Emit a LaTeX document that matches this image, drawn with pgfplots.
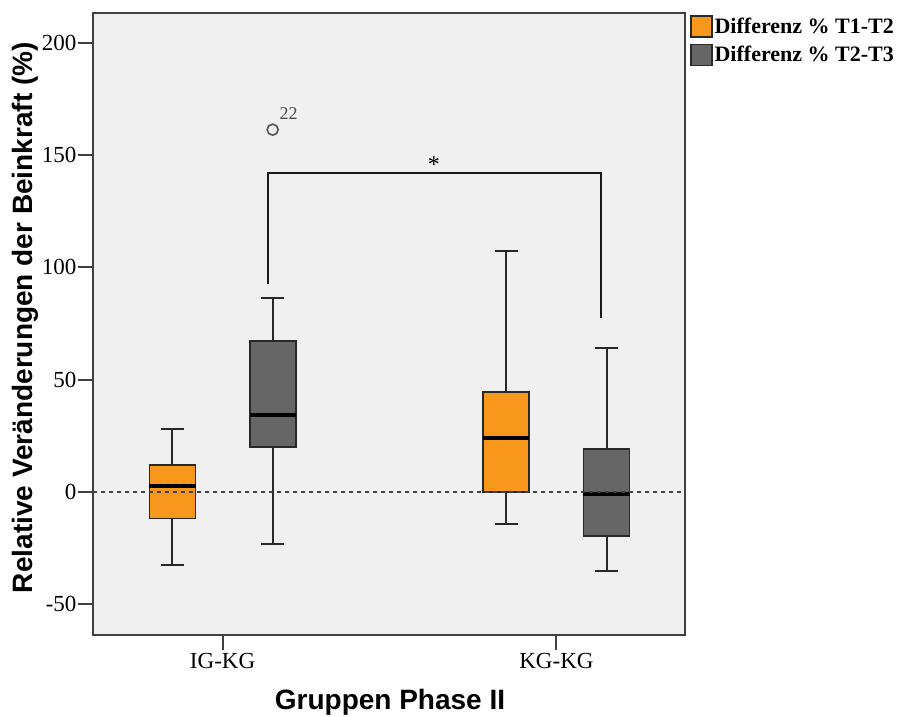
\documentclass[border=0pt]{standalone}
\usepackage{fontspec}
\setmainfont{Liberation Serif}
\setsansfont{Liberation Sans}
\usepackage{pgfplots}
\pgfplotsset{compat=1.18}
\usepgfplotslibrary{statistics}

\definecolor{orng}{RGB}{247,152,29}
\definecolor{dgrey}{RGB}{102,102,102}
\definecolor{bgc}{RGB}{240,240,240}
\definecolor{edge}{RGB}{40,40,40}

% square swatch for the legend
\pgfplotsset{sqlegend/.style={legend image code/.code={%
  \draw[##1, line width=1.4pt] (0pt,-10.5pt) rectangle (21pt,10.5pt);}}}

\begin{document}
\begin{tikzpicture}
% groups placed at x = 100 (IG-KG) and x = 200 (KG-KG)
\begin{axis}[
  at={(0,0)}, anchor=south west,
  scale only axis, width=592.6pt, height=622.3pt,
  xmin=61.1, xmax=238.6, ymin=-63.8, ymax=213.4,
  axis background/.style={fill=bgc},
  axis line style={draw=black!75, line width=2pt},
  tick pos=left, tick align=outside,
  major tick length=15pt,
  tick style={draw=black!75, line width=2pt},
  xtick={100,200}, xticklabels={IG-KG,KG-KG},
  ytick={-50,0,50,100,150,200},
  /pgf/number format/assume math mode=true,
  ticklabel style={font=\fontsize{23}{26}\selectfont},
  yticklabel style={inner xsep=1pt},
  xlabel={Gruppen Phase II},
  ylabel={Relative Veränderungen der Beinkraft (\%)},
  every axis x label/.style={at={([yshift=-67pt]axis description cs:0.5017,0)}, anchor=center,
    font=\sffamily\bfseries\fontsize{28}{32}\selectfont},
  every axis y label/.style={at={([xshift=-67.7pt]axis description cs:0,0.51)}, anchor=center, rotate=90,
    font=\sffamily\bfseries\fontsize{28}{32}\selectfont},
  boxplot/draw direction=y,
  boxplot/box extend=13.8,
  boxplot/whisker extend=6.8,
  boxplot/every box/.style={draw=edge, line width=1.8pt},
  boxplot/every whisker/.style={draw=edge, line width=2pt},
  boxplot/every median/.style={draw=black, line width=4pt},
  legend cell align=left,
  legend style={at={(1,1)}, anchor=north west, xshift=4.7pt, yshift=-2.3pt,
    draw=none, fill=none, inner sep=0pt, row sep=6pt,
    font=\fontsize{22}{24}\selectfont\bfseries},
]
\addlegendimage{sqlegend, fill=orng, draw=edge}
\addlegendentry{Differenz \% T1-T2}
\addlegendimage{sqlegend, fill=dgrey, draw=edge}
\addlegendentry{Differenz \% T2-T3}

% IG-KG, T1-T2
\addplot[forget plot, fill=orng, boxplot prepared={draw position=85,
  lower whisker=-32.7, lower quartile=-11.9, median=2.5,
  upper quartile=11.9, upper whisker=27.9}] coordinates {};
% IG-KG, T2-T3 (with outlier case 22)
\addplot[forget plot, fill=dgrey, mark=o,
  mark options={draw=black!65, line width=1.7pt, fill=none, mark size=5.5pt},
  boxplot prepared={draw position=115,
  lower whisker=-23.4, lower quartile=19.8, median=34.2,
  upper quartile=67.1, upper whisker=86.1}]
  coordinates {(115,161.3)};
% KG-KG, T1-T2
\addplot[forget plot, fill=orng, boxplot prepared={draw position=185,
  lower whisker=-14.3, lower quartile=0, median=24.1,
  upper quartile=44.3, upper whisker=107.2}] coordinates {};
% KG-KG, T2-T3
\addplot[forget plot, fill=dgrey, boxplot prepared={draw position=215,
  lower whisker=-35.5, lower quartile=-19.6, median=-1.0,
  upper quartile=19.0, upper whisker=63.9}] coordinates {};

% case label of the outlier
\node[font=\fontsize{18}{20}\selectfont, text=black!70] at (axis cs:119.8,168.3) {22};

% significance bracket
\draw[black!90, line width=2pt] (axis cs:113.5,92.4) -- (axis cs:113.5,141.8)
  -- (axis cs:213.4,141.8) -- (axis cs:213.4,77.5);
\node[font=\fontsize{24}{26}\selectfont] at (axis cs:163.3,145.8) {*};

% zero reference line
\draw[black!75, line width=1.8pt, dash pattern=on 4.5pt off 3.5pt]
  (axis cs:61.1,0) -- (axis cs:238.6,0);
\end{axis}
\pgfresetboundingbox
\useasboundingbox (-92.7pt,-82pt) rectangle (809.3pt,635pt);
\end{tikzpicture}
\end{document}
